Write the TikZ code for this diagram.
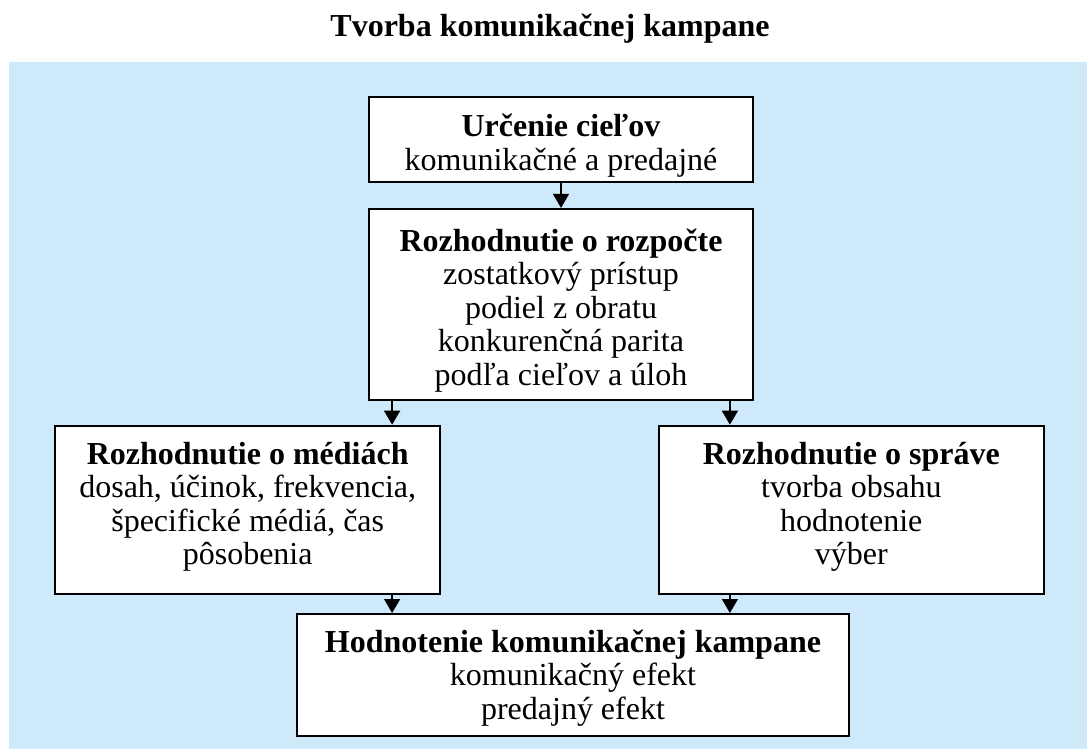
\documentclass[tikz,border=0pt]{standalone}
\usepackage{fontspec}
\setmainfont{Liberation Serif}
\usetikzlibrary{arrows.meta,positioning}
\definecolor{bgblue}{RGB}{205,233,250}

\begin{document}
\begin{tikzpicture}[x=1pt,y=-1pt,
  box/.style={draw,line width=1.8pt,fill=white,inner sep=0pt},
  txt/.style={align=center,inner sep=0pt,font=\fontsize{32}{33.5}\selectfont},
  arr/.style={-{Triangle[width=16pt,length=14pt]},line width=1.4pt}]
  \useasboundingbox (0,0) rectangle (1087,749);
  \fill[bgblue] (9,62) rectangle (1087,749);

  \node[font=\bfseries\fontsize{32}{38}\selectfont] (title) at (550,29) {Tvorba komunikačnej kampane};

  % boxes
  \node[box,minimum width=384pt,minimum height=85pt] (ciele) at (561,139.5) {};
  \node[box,minimum width=384pt,minimum height=191pt, below = 25pt of ciele] (rozpocet) {};
  \node[box,minimum width=385pt,minimum height=168pt, below left = 24pt and -73pt of rozpocet] (media) {};
  \node[box,minimum width=385pt,minimum height=168pt, below right = 24pt and -96pt of rozpocet] (sprava) {};
  \node[box,minimum width=552pt,minimum height=122pt, anchor=north] (hodnotenie) at (573,613) {};

  % texts
  \node[txt,yshift=-6pt] (cieleTxt) at (ciele)
    {\textbf{Určenie cieľov}\\komunikačné a predajné};
  \node[txt,yshift=-6pt] (rozpocetTxt) at (rozpocet)
    {\textbf{Rozhodnutie o rozpočte}\\zostatkový prístup\\podiel z obratu\\konkurenčná parita\\podľa cieľov a úloh};
  \node[txt,yshift=3pt] (mediaTxt) at (media)
    {\textbf{Rozhodnutie o médiách}\\dosah, účinok, frekvencia,\\špecifické médiá, čas\\pôsobenia};
  \node[txt,yshift=3pt] (spravaTxt) at (sprava)
    {\textbf{Rozhodnutie o správe}\\tvorba obsahu\\hodnotenie\\výber};
  \node[txt,yshift=-3pt] (hodnotenieTxt) at (hodnotenie)
    {\textbf{Hodnotenie komunikačnej kampane}\\komunikačný efekt\\predajný efekt};

  \coordinate (lx) at ([xshift=24pt]rozpocet.south west);
  \coordinate (rx) at ([xshift=-24pt]rozpocet.south east);

  \draw[arr] (ciele) -- (rozpocet);
  \draw[arr] (lx) -- (lx |- media.north);
  \draw[arr] (rx) -- (rx |- sprava.north);
  \draw[arr] (lx |- media.south) -- (lx |- hodnotenie.north);
  \draw[arr] (rx |- sprava.south) -- (rx |- hodnotenie.north);

\end{tikzpicture}
\end{document}
